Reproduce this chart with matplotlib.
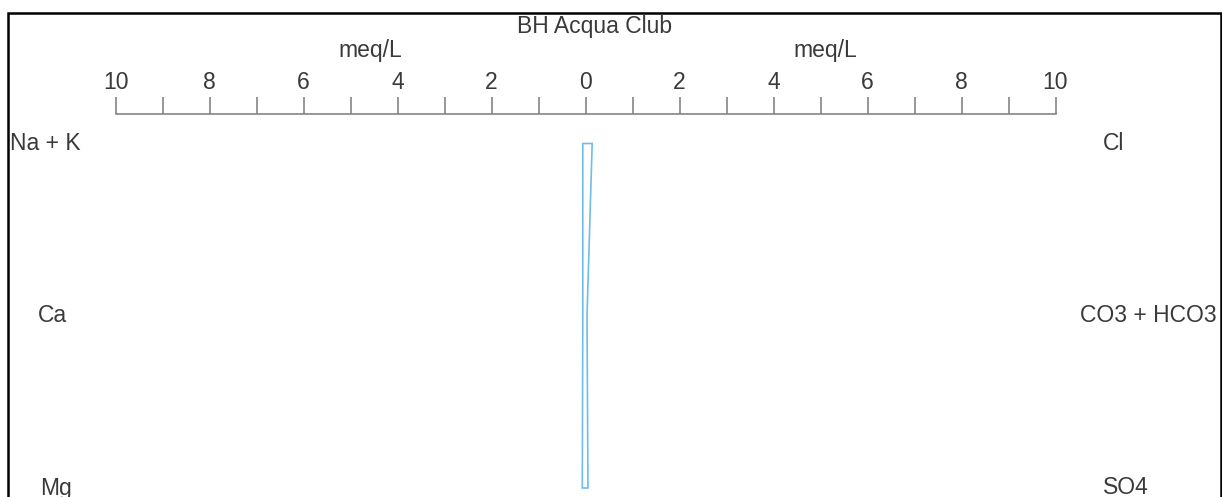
import matplotlib
matplotlib.use("Agg")
import matplotlib.pyplot as plt
import matplotlib.transforms as mtransforms
from matplotlib.patches import Polygon, Rectangle
from matplotlib.ticker import MultipleLocator, FuncFormatter

# Stiff diagram data (meq/L)
title = "BH Acqua Club"
cation_names = ["Na + K", "Ca", "Mg"]
anion_names = ["Cl", "CO3 + HCO3", "SO4"]
cation_values = [0.06, 0.06, 0.07]
anion_values = [0.14, 0.03, 0.05]
scale_max = 10

W, H = 1222, 497
DPI = 100
fig = plt.figure(figsize=(W / DPI, H / DPI), dpi=DPI)
fig.patch.set_facecolor("white")

plt.rcParams["font.family"] = ["Liberation Sans", "DejaVu Sans"]
TEXT = "#3a3a3a"
FS = 16.5

# pixel geometry of the scale bar
x_left_px, x_right_px = 115.7, 1055.5
axis_y_px = 114
row0_px, row2_px = 143.5, 488.0

def fx(px):
    return px / W

def fy(py):
    return 1 - py / H

# main drawing axes spanning the whole figure
ax = fig.add_axes([0, 0, 1, 1])
ax.set_axis_off()
ppu = (x_right_px - x_left_px) / (2 * scale_max)
ax.set_xlim(-scale_max - x_left_px / ppu, scale_max + (W - x_right_px) / ppu)
ppr = (row2_px - row0_px) / (len(cation_names) - 1)
ax.set_ylim((H - row0_px) / ppr, -row0_px / ppr)

n = len(cation_names)
verts = [(-cation_values[i], i) for i in range(n)] + \
        [(anion_values[i], i) for i in reversed(range(n))]
ax.add_patch(Polygon(verts, closed=True, fill=False, edgecolor="#6fbde8",
                     linewidth=1.2, joinstyle="miter"))

# row labels: x in figure fraction, y tied to the row positions
trans = mtransforms.blended_transform_factory(fig.transFigure, ax.transData)
cation_x = [10, 38, 40]
anion_x = [1103, 1080, 1103]
for i, name in enumerate(cation_names):
    ax.text(fx(cation_x[i]), i, name, transform=trans, ha="left", va="center",
            fontsize=FS, color=TEXT)
for i, name in enumerate(anion_names):
    ax.text(fx(anion_x[i]), i, name, transform=trans, ha="left", va="center",
            fontsize=FS, color=TEXT)

# scale bar on top
sax = fig.add_axes([fx(x_left_px), fy(axis_y_px) - 0.01,
                    fx(x_right_px) - fx(x_left_px), 0.01])
sax.set_xlim(-scale_max, scale_max)
sax.patch.set_visible(False)
for s in ["left", "right", "bottom"]:
    sax.spines[s].set_visible(False)
sax.spines["top"].set_color("#7a7a7a")
sax.spines["top"].set_linewidth(1.1)
sax.set_yticks([])
sax.xaxis.set_ticks_position("top")
sax.xaxis.set_major_locator(MultipleLocator(1))
sax.xaxis.set_major_formatter(
    FuncFormatter(lambda v, p: f"{abs(v):.0f}" if round(v) % 2 == 0 else ""))
sax.tick_params(axis="x", direction="out", length=12.2, width=1.1,
                color="#7a7a7a", labelsize=FS, labelcolor=TEXT, pad=2.5)

fig.text(fx(595), fy(26), title, ha="center", va="center", fontsize=FS, color=TEXT)
fig.text(fx(370), fy(50), "meq/L", ha="center", va="center", fontsize=FS, color=TEXT)
fig.text(fx(825), fy(50), "meq/L", ha="center", va="center", fontsize=FS, color=TEXT)

# frame (bottom edge lies below the visible area)
fig.patches.append(Rectangle((fx(8), fy(520)), fx(1220.5) - fx(8), fy(13) - fy(520),
                             transform=fig.transFigure, fill=False,
                             edgecolor="black", linewidth=1.8))

fig.savefig("out.png", dpi=DPI, facecolor="white")
